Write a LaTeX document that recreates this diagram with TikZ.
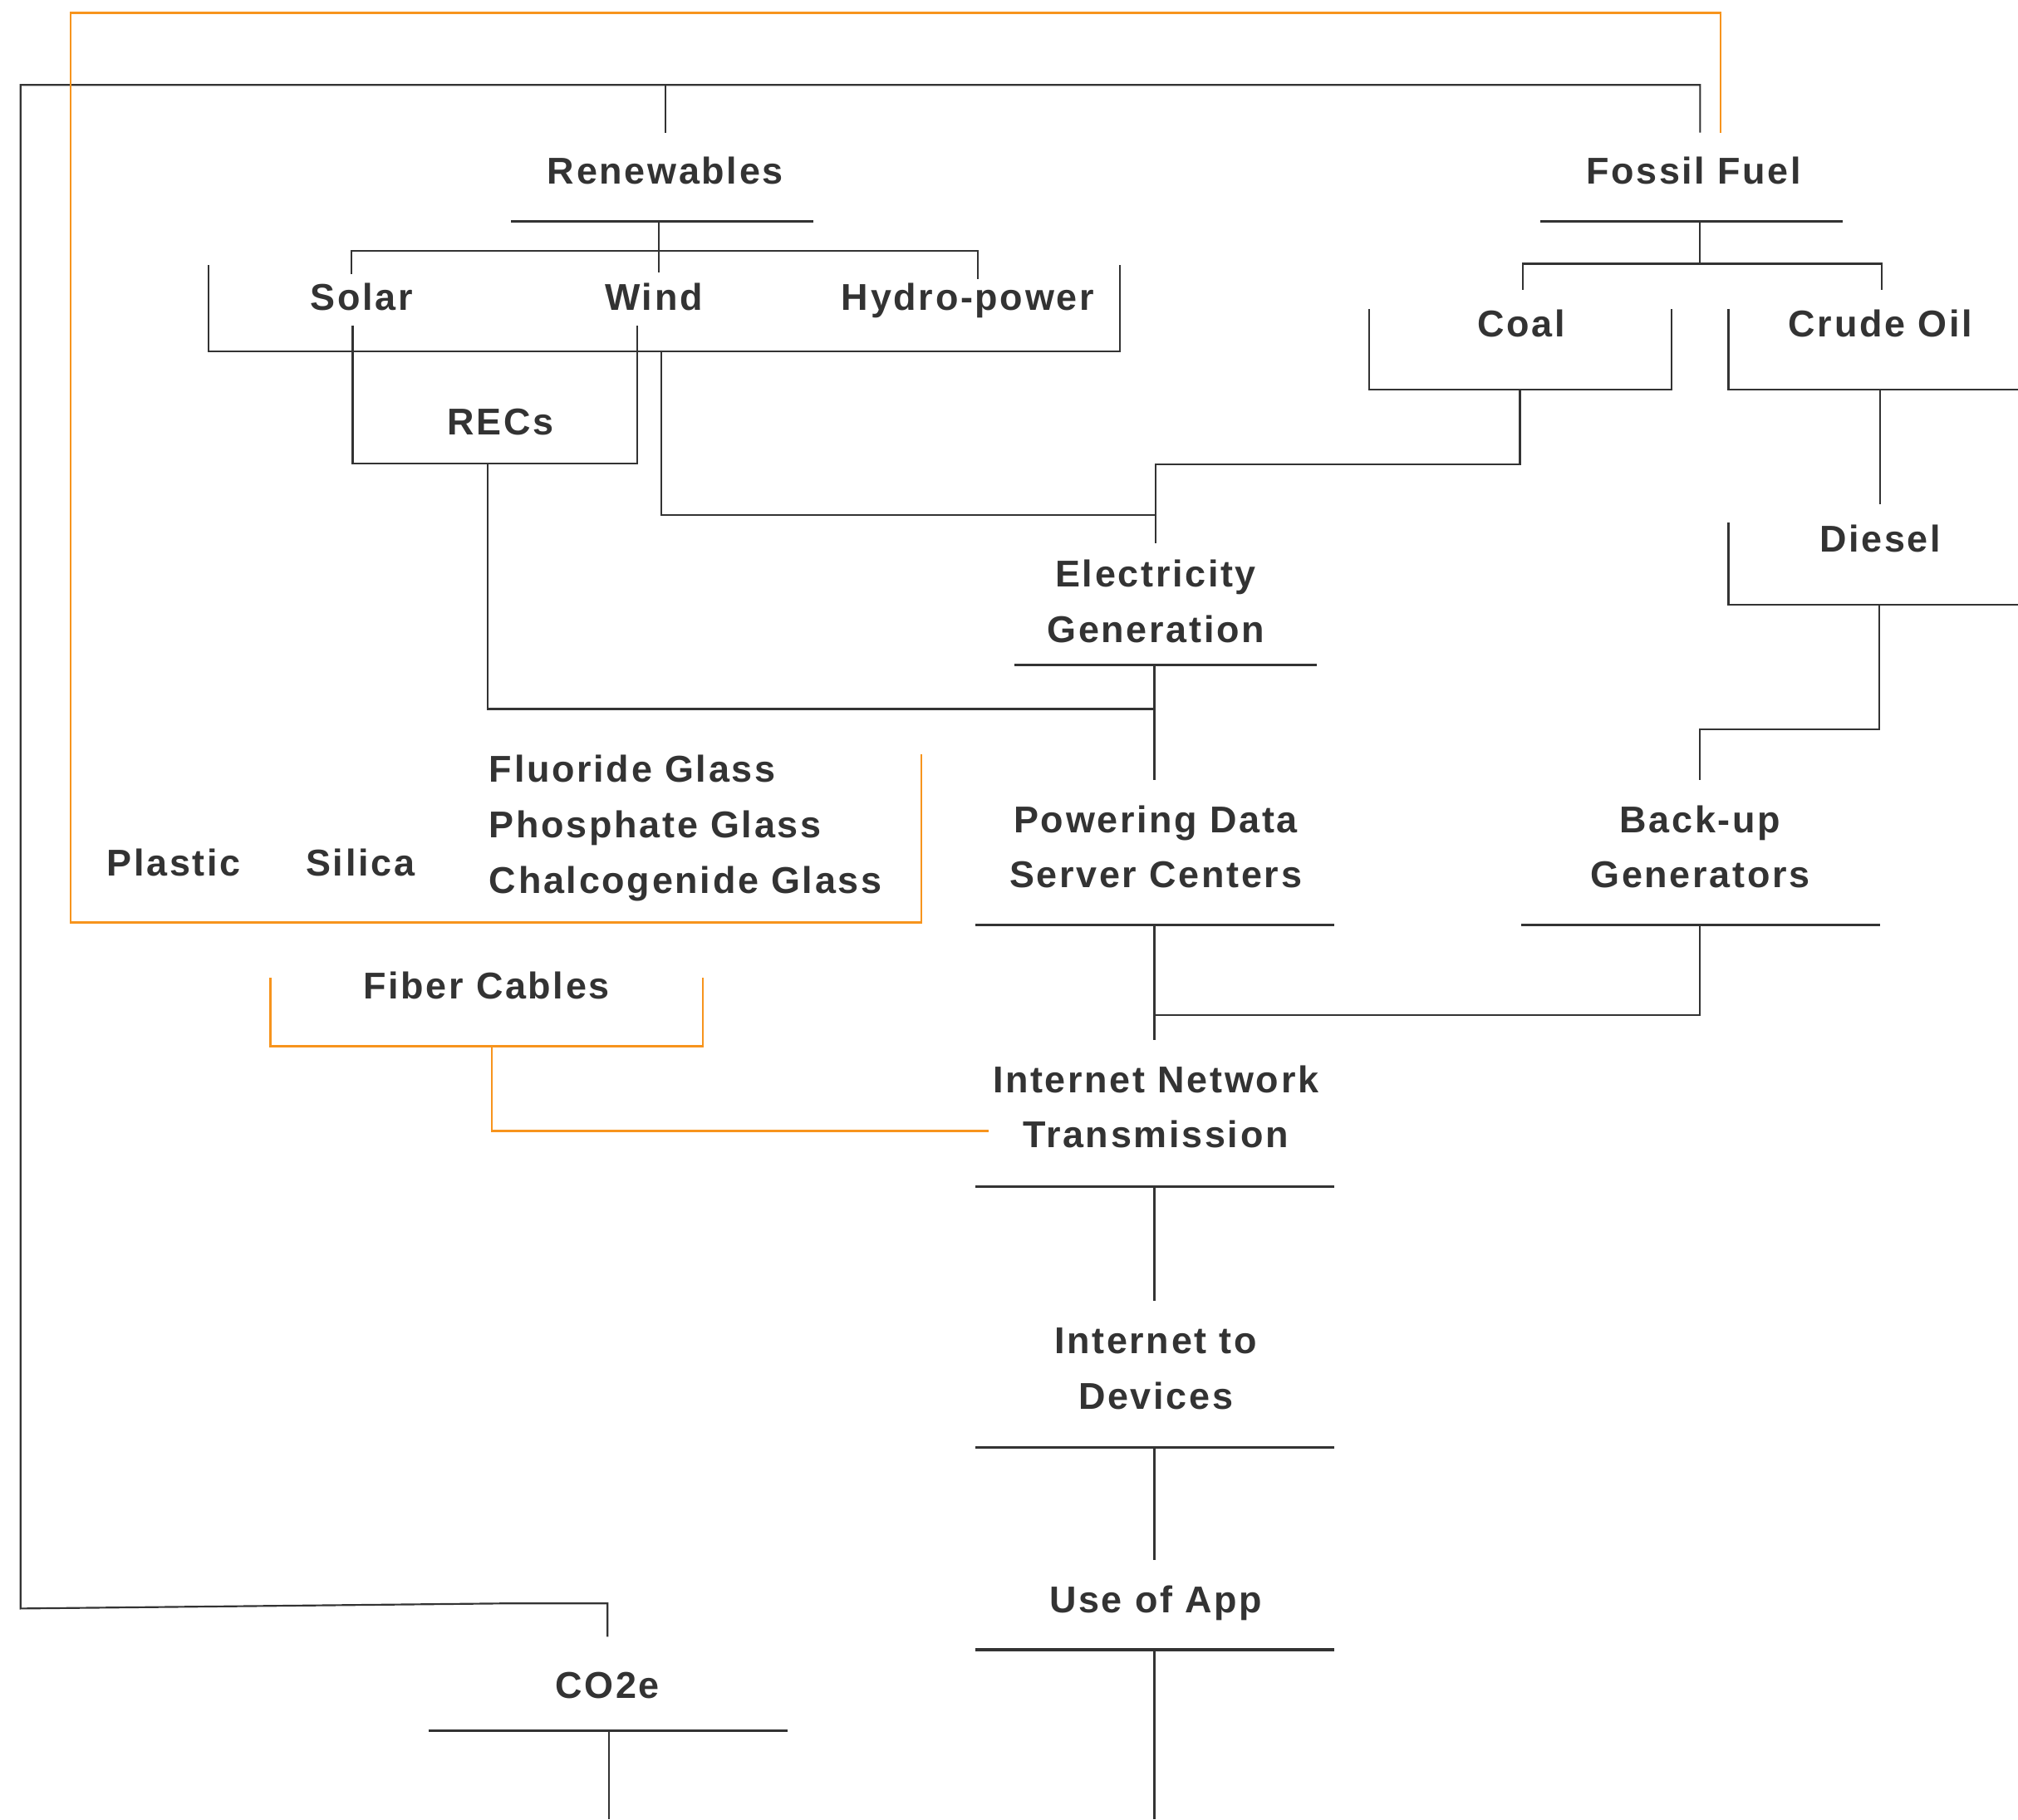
\documentclass[tikz,border=0pt]{standalone}
\usepackage{fontspec}
\newfontfamily\lbfam[LetterSpace=6.0]{Liberation Sans}
\definecolor{ink}{RGB}{51,51,51}
\definecolor{orng}{RGB}{247,148,29}
\begin{document}
\begin{tikzpicture}[x=1pt,y=-1pt,
  lbl/.style={font=\lbfam\bfseries\fontsize{29}{43}\selectfont, text=ink, inner sep=0pt, anchor=base, align=center},
  lbll/.style={lbl, anchor=base west, align=left},
  wire/.style={draw=ink, line width=1.4pt},
  uline/.style={draw=ink, line width=2pt},
  owire/.style={draw=orng, line width=1.6pt}]
\useasboundingbox[fill=white] (0,0) rectangle (1568,1414);

% ---------- text nodes (multi-line nodes: base = last line) ----------
\node[lbl] (ren) at (517,143) {Renewables};
\node[lbl] (fos) at (1316,143) {Fossil Fuel};
\node[lbl] (sol) at (281,241) {Solar};
\node[lbl] (wind) at (508,241) {Wind};
\node[lbl] (hyd) at (752,241) {Hydro-power};
\node[lbl] (recs) at (389,338) {RECs};
\node[lbl] (coal) at (1182,262) {Coal};
\node[lbl] (crude) at (1461,262) {Crude Oil};
\node[lbl] (dies) at (1461,429) {Diesel};
\node[lbl] (elec) at (898,499) {Electricity\\Generation};
\node[lbll] (fluo) at (380,608) {Fluoride Glass};
\node[lbll] (phos) at (380,651) {Phosphate Glass};
\node[lbll] (chal) at (380,694) {Chalcogenide Glass};
\node[lbl] (plas) at (135,681) {Plastic};
\node[lbl] (sili) at (280,681) {Silica};
\node[lbl] (pdsc) at (898,690) {Powering Data\\Server Centers};
\node[lbl] (back) at (1321,690) {Back-up\\Generators};
\node[lbl] (fib) at (378,776) {Fiber Cables};
\node[lbl] (inet) at (898,892) {Internet Network\\Transmission};
\node[lbl] (idev) at (898,1095) {Internet to\\Devices};
\node[lbl] (app) at (898,1253) {Use of App};
\node[lbl] (co2) at (472,1320) {CO2e};

% ---------- named coordinates ----------
\coordinate (renT) at (517,103);
\coordinate (renB) at (512,172);
\coordinate (fosT) at (1321,103);
\coordinate (fosTo) at (1337,103);
\coordinate (fosB) at (1321,172);
\coordinate (co2T) at (472,1272);
\coordinate (co2B) at (473,1345);
\coordinate (solT) at (273,213);
\coordinate (windT) at (512,212);
\coordinate (hydT) at (760,217);
\coordinate (solB) at (274,253);
\coordinate (windB) at (495,253);
\coordinate (recsB) at (379,360);
\coordinate (boxB) at (514,273);
\coordinate (coalT) at (1183,225);
\coordinate (crudeT) at (1462,225);
\coordinate (coalB) at (1181,303);
\coordinate (crudeB) at (1461,303);
\coordinate (diesT) at (1461,392);
\coordinate (diesB) at (1460,470);
\coordinate (elecT) at (898,422);
\coordinate (elecB) at (897,517);
\coordinate (pdscT) at (897,606);
\coordinate (pdscB) at (897,719);
\coordinate (backT) at (1321,606);
\coordinate (backB) at (1321,719);
\coordinate (inetT) at (897,808);
\coordinate (inetL) at (768,879);
\coordinate (inetB) at (897,922);
\coordinate (idevT) at (897,1011);
\coordinate (idevB) at (897,1125);
\coordinate (appT) at (897,1212);
\coordinate (appB) at (897,1282);
\coordinate (glassTR) at (716,586);
\coordinate (fibB) at (382,813);
\coordinate (bottomA) at (897,1414);
\coordinate (bottomC) at (473,1414);

% ---------- underlines / brackets ----------
\draw[uline] (397,172) -- (632,172);
\draw[uline] (1197,172) -- (1432,172);
\draw[uline] (788,517) -- (1023,517);
\draw[uline] (758,719) -- (1037,719);
\draw[uline] (1182,719) -- (1461,719);
\draw[uline] (758,922) -- (1037,922);
\draw[uline] (758,1125) -- (1037,1125);
\draw[uline] (758,1282) -- (1037,1282);
\draw[uline] (333,1345) -- (612,1345);
\draw[wire] (162,206) -- (162,273) -- (870,273) -- (870,206);
\draw[wire] (solB) -- (274,360) -- (495,360) -- (windB);
\draw[wire] (1064,240) -- (1064,303) -- (1299,303) -- (1299,240);
\draw[wire] (1343,240) -- (1343,303) -- (1568,303);
\draw[wire] (1343,406) -- (1343,470) -- (1568,470);

% ---------- connectors ----------
\draw[wire] (co2T) -- (472,1246) -- (395,1246) -- (16,1250) -- (16,66) -- (1321,66) -- (fosT);
\draw[wire] (renT) -- (517,66);
\draw[wire] (renB) -- (windT);
\draw[wire] (solT) -- (273,195) -- (760,195) -- (hydT);
\draw[wire] (recsB) -- (379,551) -- (897,551);
\draw[wire] (boxB) -- (514,400) -- (898,400);
\draw[wire] (coalB) -- (1181,361) -- (898,361) -- (elecT);
\draw[wire] (fosB) -- (1321,205);
\draw[wire] (coalT) -- (1183,205) -- (1462,205) -- (crudeT);
\draw[wire] (crudeB) -- (diesT);
\draw[wire] (diesB) -- (1460,567) -- (1321,567) -- (backT);
\draw[wire] (elecB) -- (pdscT);
\draw[wire] (pdscB) -- (inetT);
\draw[wire] (backB) -- (1321,789) -- (897,789);
\draw[wire] (inetB) -- (idevT);
\draw[wire] (idevB) -- (appT);
\draw[wire] (appB) -- (bottomA);
\draw[wire] (co2B) -- (bottomC);

% ---------- orange ----------
\draw[owire] (glassTR) -- (716,717) -- (55,717) -- (55,10) -- (1337,10) -- (fosTo);
\draw[owire] (210,760) -- (210,813) -- (546,813) -- (546,760);
\draw[owire] (fibB) -- (382,879) -- (inetL);
\end{tikzpicture}
\end{document}
